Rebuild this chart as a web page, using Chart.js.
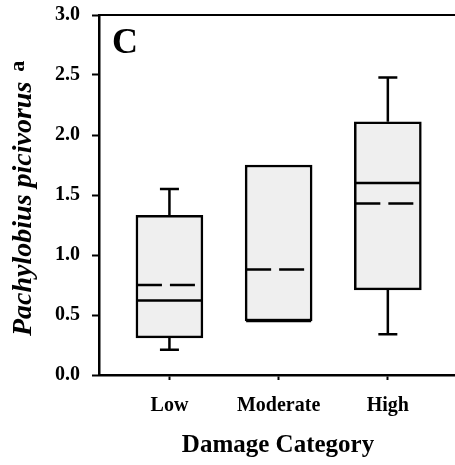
<!DOCTYPE html>
<html>
<head>
<meta charset="utf-8">
<script src="https://cdn.jsdelivr.net/npm/chart.js@4.4.0/dist/chart.umd.min.js"></script>
<style>
html, body { margin: 0; padding: 0; background: #fff; overflow: hidden; }
#wrap { width: 455px; height: 465px; }
</style>
</head>
<body>
<div id="wrap"><canvas id="c"></canvas></div>
<script>
// box plot values
const categories = ['Low', 'Moderate', 'High'];
const whiskerLow = [0.21, null, 0.34];
const boxLow = [0.31, 0.45, 0.71];
const medians = [0.62, 0.45, 1.60];
const means = [0.75, 0.88, 1.43];
const boxHigh = [1.33, 1.75, 2.11];
const whiskerHigh = [1.55, null, 2.48];
const yTicks = [0, 0.5, 1.0, 1.5, 2.0, 2.5, 3.0];

const SERIF = '"Liberation Serif", "Times New Roman", serif';

// whiskers, medians, means and the titles
const boxExtras = {
  id: 'boxExtras',
  afterDatasetsDraw(chart) {
    const ctx = chart.ctx;
    const y = chart.scales.y;
    const bars = chart.getDatasetMeta(0).data;
    ctx.save();
    ctx.strokeStyle = '#000';
    ctx.lineWidth = 2.5;
    categories.forEach((c, i) => {
      const cx = bars[i].x;
      const half = bars[i].width / 2;
      // whiskers
      if (whiskerHigh[i] != null) {
        const yt = y.getPixelForValue(whiskerHigh[i]);
        ctx.beginPath();
        ctx.moveTo(cx, y.getPixelForValue(boxHigh[i]));
        ctx.lineTo(cx, yt);
        ctx.moveTo(cx - 9.5, yt);
        ctx.lineTo(cx + 9.5, yt);
        ctx.stroke();
      }
      if (whiskerLow[i] != null) {
        const yb = y.getPixelForValue(whiskerLow[i]);
        ctx.beginPath();
        ctx.moveTo(cx, y.getPixelForValue(boxLow[i]));
        ctx.lineTo(cx, yb);
        ctx.moveTo(cx - 9.5, yb);
        ctx.lineTo(cx + 9.5, yb);
        ctx.stroke();
      }
      // median
      const ym = y.getPixelForValue(medians[i]);
      ctx.beginPath();
      ctx.moveTo(cx - half + 1, ym);
      ctx.lineTo(cx + half - 1, ym);
      ctx.stroke();
      // mean (dashed)
      const ya = y.getPixelForValue(means[i]);
      ctx.setLineDash([25, 8]);
      ctx.beginPath();
      ctx.moveTo(cx - half + 1, ya);
      ctx.lineTo(cx + half - 1, ya);
      ctx.stroke();
      ctx.setLineDash([]);
    });
    ctx.restore();
  },
  afterDraw(chart) {
    const ctx = chart.ctx;
    const area = chart.chartArea;
    ctx.save();
    // top frame line
    ctx.strokeStyle = '#000';
    ctx.lineWidth = 2;
    ctx.beginPath();
    ctx.moveTo(area.left, area.top);
    ctx.lineTo(area.right, area.top);
    ctx.stroke();

    ctx.fillStyle = '#000';
    // panel letter
    ctx.font = 'bold 36px ' + SERIF;
    ctx.textBaseline = 'alphabetic';
    ctx.textAlign = 'left';
    ctx.fillText('C', 112, 53);

    // x title
    ctx.font = 'bold 25px ' + SERIF;
    ctx.textAlign = 'center';
    ctx.fillText('Damage Category', 278, 452);

    // y title, italic name with superscript letter
    ctx.translate(31, 336);
    ctx.rotate(-Math.PI / 2);
    ctx.textAlign = 'left';
    ctx.font = 'italic bold 28px ' + SERIF;
    const name = 'Pachylobius picivorus';
    ctx.fillText(name, 0, 0);
    const w = ctx.measureText(name).width;
    ctx.font = 'bold 22px ' + SERIF;
    ctx.fillText('a', w + 10, -7);
    ctx.restore();
  }
};

new Chart(document.getElementById('c'), {
  type: 'bar',
  data: {
    datasets: [{
      data: categories.map((c, i) => ({ x: i + 1, y: [boxLow[i], boxHigh[i]] })),
      backgroundColor: '#efefef',
      borderColor: '#000',
      borderWidth: 2.5,
      borderSkipped: false,
      barThickness: 67
    }]
  },
  options: {
    responsive: true,
    maintainAspectRatio: false,
    animation: false,
    layout: { padding: { top: 15, left: 0, right: 0, bottom: 0 } },
    plugins: {
      legend: { display: false },
      tooltip: { enabled: false }
    },
    scales: {
      x: {
        type: 'linear',
        min: 0.355,
        max: 3.615,
        offset: false,
        afterBuildTicks: s => { s.ticks = categories.map((c, i) => ({ value: i + 1 })); },
        afterFit: s => { s.height = 90; s.paddingLeft = 0; s.paddingRight = 0; },
        ticks: {
          callback: v => categories[Math.round(v) - 1],
          color: '#000',
          font: { family: SERIF, size: 20, weight: 'bold' },
          padding: 14,
          autoSkip: false,
          maxRotation: 0
        },
        grid: { offset: false, drawOnChartArea: false, tickLength: 5, tickWidth: 2, tickColor: '#000' },
        border: { color: '#000', width: 2.5 }
      },
      y: {
        min: 0,
        max: 3,
        afterBuildTicks: s => { s.ticks = yTicks.map(v => ({ value: v })); },
        afterFit: s => { s.width = 99; s.paddingTop = 0; s.paddingBottom = 0; },
        ticks: {
          callback: v => v.toFixed(1),
          color: '#000',
          font: { family: SERIF, size: 20, weight: 'bold' },
          padding: 12
        },
        grid: { drawOnChartArea: false, tickLength: 7, tickWidth: 2, tickColor: '#000' },
        border: { color: '#000', width: 2.5 }
      }
    }
  },
  plugins: [boxExtras]
});
</script>
</body>
</html>
